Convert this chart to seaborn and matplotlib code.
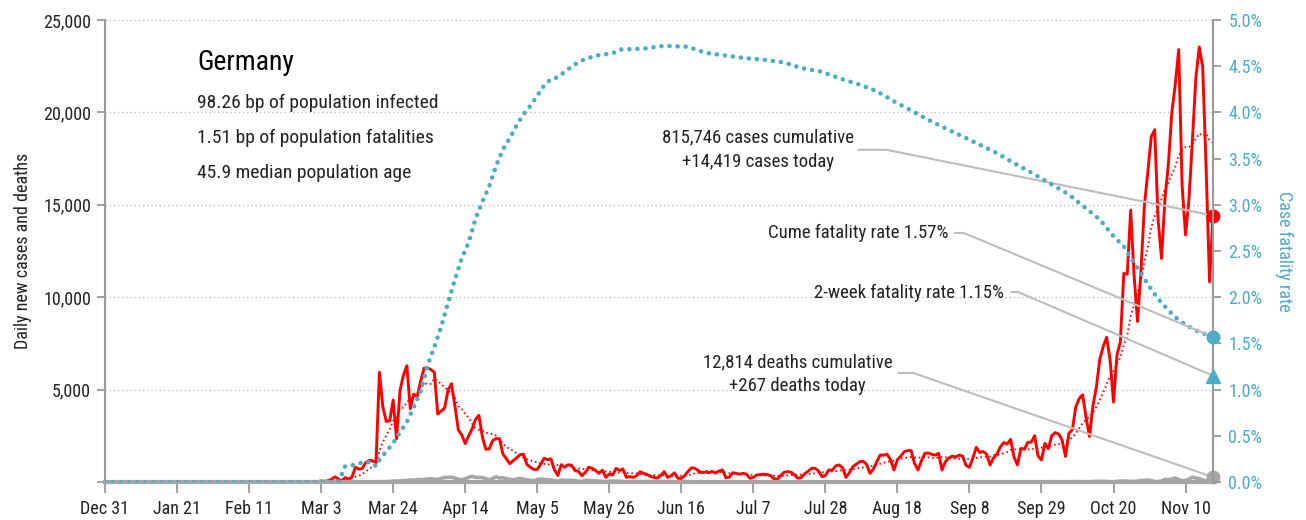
import matplotlib
matplotlib.use("Agg")
import matplotlib.pyplot as plt
import matplotlib.dates as mdates
from matplotlib import font_manager
from matplotlib.ticker import FuncFormatter, MultipleLocator
import pandas as pd
import seaborn as sns

# daily new cases, Dec 31 2019 .. Nov 18 2020 (one list per month)
cases_dec = [0]
cases_jan = [0, 0, 0, 0, 0, 0, 0, 0, 0, 0, 0, 0, 0, 0, 0, 0, 0, 0, 0, 0,
             0, 0, 0, 0, 0, 0, 0, 1, 3, 0, 1]
cases_feb = [1, 0, 2, 1, 0, 0, 1, 0, 0, 0, 0, 2, 0, 0, 0, 0, 0, 0, 0, 0,
             0, 0, 0, 0, 0, 0, 2, 6, 18]
cases_mar = [21, 26, 53, 38, 66, 138, 284, 163, 55, 237, 157, 271, 802, 693,
             733, 1043, 1174, 1144, 1042, 5940, 4049, 3276, 3311, 4438, 2342,
             4954, 5780, 6294, 3965, 4751, 4615]
cases_apr = [5453, 6156, 6174, 6082, 5936, 3677, 3834, 4003, 4974, 5323,
             4133, 2821, 2537, 2082, 2486, 2866, 3380, 3609, 2458, 1775,
             1785, 2237, 2352, 2337, 1514, 1257, 988, 1154, 1304, 1478]
cases_may = [1500, 945, 793, 679, 685, 947, 1284, 1209, 1251, 667, 357, 933,
             798, 933, 913, 620, 583, 342, 513, 797, 745, 620, 470, 640, 250,
             430, 380, 740, 620, 700, 250]
cases_jun = [290, 250, 340, 555, 470, 410, 300, 250, 210, 350, 560, 250, 330,
             500, 200, 190, 350, 580, 770, 740, 600, 500, 540, 500, 560, 480,
             600, 650, 230, 260]
cases_jul = [500, 470, 420, 470, 420, 200, 250, 380, 400, 420, 400, 350, 180,
             145, 350, 530, 560, 530, 380, 200, 250, 450, 590, 740, 740, 600,
             290, 350, 650, 630, 870]
cases_aug = [920, 780, 250, 500, 820, 960, 1100, 1120, 960, 470, 700, 1100,
             1460, 1450, 1500, 1200, 650, 1200, 1400, 1640, 1700, 1700, 1000,
             650, 1150, 1550, 1570, 1500, 1450, 1550, 650]
cases_sep = [1100, 1300, 1400, 1350, 1460, 1400, 900, 795, 1300, 1880, 1600,
             1650, 1500, 920, 1300, 1500, 1900, 2130, 2050, 2310, 1345, 922,
             1821, 1769, 2143, 2153, 2507, 1411, 1192, 2089]
cases_oct = [1798, 2503, 2673, 2600, 2279, 1382, 2639, 2828, 4058, 4516, 4721,
             3483, 2467, 4122, 5132, 6638, 7334, 7830, 6600, 4325, 6868, 7595,
             11287, 11242, 14714, 11176, 8685, 11409, 14964, 16774, 18681]
cases_nov = [19059, 14177, 12097, 15352, 17214, 19990, 21506, 23399, 16017,
             13363, 15332, 18487, 21866, 23542, 22461, 16947, 10824, 14419]

# daily new deaths, same days
deaths_dec = [0]
deaths_jan = [0, 0, 0, 0, 0, 0, 0, 0, 0, 0, 0, 0, 0, 0, 0, 0, 0, 0, 0, 0,
              0, 0, 0, 0, 0, 0, 0, 0, 0, 0, 0]
deaths_feb = [0, 0, 0, 0, 0, 0, 0, 0, 0, 0, 0, 0, 0, 0, 0, 0, 0, 0, 0, 0,
              0, 0, 0, 0, 0, 0, 0, 0, 0]
deaths_mar = [0, 0, 0, 0, 0, 0, 0, 0, 2, 0, 1, 1, 2, 1, 4, 4, 7, 8, 11, 20,
              22, 24, 25, 47, 48, 60, 70, 85, 110, 95, 130]
deaths_apr = [128, 140, 160, 170, 150, 150, 190, 250, 250, 266, 210, 150, 125,
              170, 250, 310, 248, 250, 240, 180, 110, 195, 280, 215, 227, 180,
              140, 110, 160, 202]
deaths_may = [150, 115, 95, 60, 135, 160, 145, 120, 115, 75, 40, 100, 95, 85,
              95, 70, 35, 20, 90, 85, 60, 55, 40, 30, 15, 30, 50, 45, 40, 28, 10]
deaths_jun = [15, 30, 35, 20, 25, 25, 20, 10, 8, 20, 25, 18, 22, 10, 3, 8, 15,
              18, 12, 10, 5, 3, 8, 12, 10, 8, 7, 2, 4, 5]
deaths_jul = [6, 8, 5, 4, 3, 1, 2, 4, 8, 6, 5, 3, 1, 0, 3, 5, 6, 4, 3, 1, 2, 4,
              6, 8, 5, 4, 1, 3, 7, 6, 8]
deaths_aug = [5, 3, 0, 1, 6, 8, 7, 5, 3, 1, 2, 5, 9, 6, 4, 2, 1, 2, 7, 8, 10,
              6, 3, 1, 2, 9, 13, 9, 7, 2, 1]
deaths_sep = [3, 7, 9, 11, 5, 2, 1, 3, 8, 10, 12, 6, 2, 1, 4, 6, 10, 9, 11, 4,
              2, 3, 12, 13, 14, 12, 9, 2, 6, 12]
deaths_oct = [11, 12, 17, 10, 3, 12, 16, 13, 20, 17, 10, 6, 10, 24, 33, 39, 33,
              24, 13, 12, 30, 49, 42, 45, 27, 29, 42, 85, 89, 103, 74]
deaths_nov = [29, 23, 49, 151, 118, 166, 218, 130, 63, 92, 154, 261, 215, 178,
              107, 62, 151, 267]

# cumulative case fatality rate (%)
cfr_dates = ["2019-12-31", "2020-03-08", "2020-03-09", "2020-03-10", "2020-03-12",
             "2020-03-14", "2020-03-16", "2020-03-18", "2020-03-19", "2020-03-20",
             "2020-03-22", "2020-03-24", "2020-03-26", "2020-03-28", "2020-03-30",
             "2020-04-01", "2020-04-03", "2020-04-05", "2020-04-07", "2020-04-09",
             "2020-04-11", "2020-04-13", "2020-04-15", "2020-04-17", "2020-04-19",
             "2020-04-21", "2020-04-23", "2020-04-25", "2020-04-27", "2020-04-29",
             "2020-05-01", "2020-05-03", "2020-05-05", "2020-05-07", "2020-05-09",
             "2020-05-11", "2020-05-13", "2020-05-16", "2020-05-19", "2020-05-23",
             "2020-05-27", "2020-05-29", "2020-06-05", "2020-06-11", "2020-06-18",
             "2020-06-21", "2020-06-24", "2020-06-28", "2020-07-04", "2020-07-10",
             "2020-07-16", "2020-07-21", "2020-07-27", "2020-08-01", "2020-08-07",
             "2020-08-12", "2020-08-17", "2020-08-23", "2020-08-28", "2020-09-02",
             "2020-09-06", "2020-09-11", "2020-09-16", "2020-09-21", "2020-09-26",
             "2020-10-02", "2020-10-07", "2020-10-11", "2020-10-16", "2020-10-20",
             "2020-10-23", "2020-10-26", "2020-10-30", "2020-11-02", "2020-11-05",
             "2020-11-08", "2020-11-11", "2020-11-13", "2020-11-18"]
cfr_pct = [0.0, 0.0, 0.08, 0.17, 0.18,
           0.20, 0.22, 0.21, 0.17, 0.24,
           0.33, 0.42, 0.54, 0.65, 0.81,
           0.98, 1.26, 1.46, 1.68, 1.94,
           2.19, 2.42, 2.59, 2.85, 3.03,
           3.20, 3.42, 3.60, 3.72, 3.86,
           3.98, 4.07, 4.18, 4.29, 4.36,
           4.38, 4.44, 4.52, 4.58, 4.62,
           4.64, 4.68, 4.69, 4.72, 4.71,
           4.67, 4.64, 4.62, 4.59, 4.57,
           4.54, 4.48, 4.44, 4.37, 4.30,
           4.23, 4.12, 4.00, 3.90, 3.81,
           3.74, 3.65, 3.56, 3.45, 3.35,
           3.22, 3.11, 2.99, 2.84, 2.66,
           2.55, 2.37, 2.14, 1.98, 1.86,
           1.75, 1.68, 1.64, 1.57]

two_week_cfr = 1.15
total_cases = 815746
total_deaths = 12814
country = "Germany"
info_lines = ["98.26 bp of population infected",
              "1.51 bp of population fatalities",
              "45.9 median population age"]

RED = "#ff0000"
BLUE = "#4bacc6"
GREY = "#a6a6a6"
AXIS = "#999999"
TEXT = "#222222"

sns.set_style("white")
names = {f.name for f in font_manager.fontManager.ttflist}
family = next((f for f in ["Roboto Condensed", "Liberation Sans Narrow", "DejaVu Sans"]
               if f in names), "DejaVu Sans")
plt.rcParams["font.family"] = [family, "DejaVu Sans"]
plt.rcParams["font.stretch"] = "condensed"

cases = (cases_dec + cases_jan + cases_feb + cases_mar + cases_apr + cases_may
         + cases_jun + cases_jul + cases_aug + cases_sep + cases_oct + cases_nov)
deaths = (deaths_dec + deaths_jan + deaths_feb + deaths_mar + deaths_apr + deaths_may
          + deaths_jun + deaths_jul + deaths_aug + deaths_sep + deaths_oct + deaths_nov)
dates = pd.date_range("2019-12-31", periods=len(cases), freq="D")
df = pd.DataFrame({"date": dates, "cases": cases, "deaths": deaths})
df["avg7"] = df["cases"].rolling(7, min_periods=1).mean()
cfr = pd.DataFrame({"date": pd.to_datetime(cfr_dates), "cfr": cfr_pct})

fig = plt.figure(figsize=(13.06, 5.2), dpi=100)
ax = fig.add_axes([105 / 1306, 38 / 520, 1108 / 1306, 462 / 520])
ax2 = ax.twinx()

sns.lineplot(data=df, x="date", y="deaths", ax=ax, color=GREY, lw=2.6)
sns.lineplot(data=df, x="date", y="avg7", ax=ax, color=RED, lw=1.4,
             linestyle=(0, (0.8, 1.5)))
sns.lineplot(data=df, x="date", y="cases", ax=ax, color=RED, lw=2.1)
sns.lineplot(data=cfr, x="date", y="cfr", ax=ax2, color=BLUE, lw=3.3,
             linestyle=(0, (0.01, 1.75)), dash_capstyle="round")

last = mdates.date2num(dates[-1])
ax.plot([last], [cases[-1]], "o", color=RED, ms=9, clip_on=False, zorder=6)
ax.plot([last], [deaths[-1]], "o", color=GREY, ms=9, clip_on=False, zorder=6)
ax2.plot([last], [cfr_pct[-1]], "o", color=BLUE, ms=9, clip_on=False, zorder=6)
ax2.plot([last], [two_week_cfr], "^", color=BLUE, ms=10, clip_on=False, zorder=6)

# axes, ticks, grid
ax.set_xlim(dates[0], dates[-1])
ax.set_ylim(0, 25000)
ax2.set_ylim(0, 5)
ax.yaxis.set_major_locator(MultipleLocator(5000))
ax.yaxis.set_major_formatter(FuncFormatter(lambda v, p: f"{int(v):,}" if v > 0 else ""))
ax2.yaxis.set_major_locator(MultipleLocator(0.5))
ax2.yaxis.set_major_formatter(FuncFormatter(lambda v, p: f"{v:.1f}%"))
ax.set_xticks(dates[::21])
ax.xaxis.set_major_formatter(mdates.DateFormatter("%b %-d"))

ax.yaxis.grid(True, ls=(0, (1, 2)), color="#c0c0c0", lw=1)
ax.set_axisbelow(True)
for a in (ax, ax2):
    for s in ("top", "left", "right", "bottom"):
        a.spines[s].set_visible(False)
ax.spines["left"].set_visible(True)
ax.spines["left"].set_color(AXIS)
ax.spines["left"].set_linewidth(1.5)
ax.spines["bottom"].set_visible(True)
ax.spines["bottom"].set_color(GREY)
ax.spines["bottom"].set_linewidth(3)
ax2.spines["right"].set_visible(True)
ax2.spines["right"].set_color(AXIS)
ax2.spines["right"].set_linewidth(1.5)

ax.tick_params(axis="y", direction="out", length=6, width=1.3, color=AXIS,
               labelsize=13, labelcolor=TEXT, pad=4, left=True)
ax.tick_params(axis="x", direction="out", length=8, width=1.3, color=AXIS,
               labelsize=13, labelcolor=TEXT, pad=5, bottom=True)
ax2.tick_params(axis="y", direction="out", length=6, width=1.3, color=AXIS,
                labelsize=13, labelcolor=BLUE, pad=5, right=True)

ax.set_xlabel("")
ax.set_ylabel("Daily new cases and deaths", fontsize=13, color=TEXT, labelpad=8)
ax2.set_xlabel("")
ax2.set_ylabel("Case fatality rate", fontsize=13, color=BLUE, rotation=270,
               labelpad=22)

# title block
ax.text(0.083, 0.907, country, transform=ax.transAxes, fontsize=20,
        color="black", va="center", ha="left")
for i, line in enumerate(info_lines):
    ax.text(0.083, 0.820 - 0.0757 * i, line, transform=ax.transAxes,
            fontsize=14, color=TEXT, va="center", ha="left")

# annotations with leader lines
conn = dict(arrowstyle="-", color="#bdbdbd", lw=1.5, shrinkA=0, shrinkB=0)
ax.text(0.589, 0.745, f"{total_cases:,} cases cumulative", transform=ax.transAxes,
        fontsize=13.5, color=TEXT, ha="center", va="center")
ax.text(0.589, 0.693, f"+{cases[-1]:,} cases today", transform=ax.transAxes,
        fontsize=13.5, color=TEXT, ha="center", va="center")
ax.annotate("", xy=(last, cases[-1]), xytext=(0.680, 0.719),
            textcoords="axes fraction", annotation_clip=False,
            arrowprops=dict(conn, connectionstyle="arc,angleA=0,armA=28,rad=0"))

ax.text(0.761, 0.539, f"Cume fatality rate {cfr_pct[-1]:.2f}%", transform=ax.transAxes,
        fontsize=13.5, color=TEXT, ha="right", va="center")
ax2.annotate("", xy=(last, cfr_pct[-1]), xytext=(0.767, 0.539),
             textcoords="axes fraction", annotation_clip=False,
             arrowprops=dict(conn, connectionstyle="arc,angleA=0,armA=9,rad=0"))

ax.text(0.811, 0.409, f"2-week fatality rate {two_week_cfr:.2f}%", transform=ax.transAxes,
        fontsize=13.5, color=TEXT, ha="right", va="center")
ax2.annotate("", xy=(last, two_week_cfr), xytext=(0.818, 0.411),
             textcoords="axes fraction", annotation_clip=False,
             arrowprops=dict(conn, connectionstyle="arc,angleA=0,armA=7,rad=0"))

ax.text(0.625, 0.260, f"{total_deaths:,} deaths cumulative", transform=ax.transAxes,
        fontsize=13.5, color=TEXT, ha="center", va="center")
ax.text(0.625, 0.208, f"+{deaths[-1]:,} deaths today", transform=ax.transAxes,
        fontsize=13.5, color=TEXT, ha="center", va="center")
ax.annotate("", xy=(last, deaths[-1]), xytext=(0.716, 0.236),
            textcoords="axes fraction", annotation_clip=False,
            arrowprops=dict(conn, connectionstyle="arc,angleA=0,armA=15,rad=0"))

fig.savefig("out.png", dpi=100)
